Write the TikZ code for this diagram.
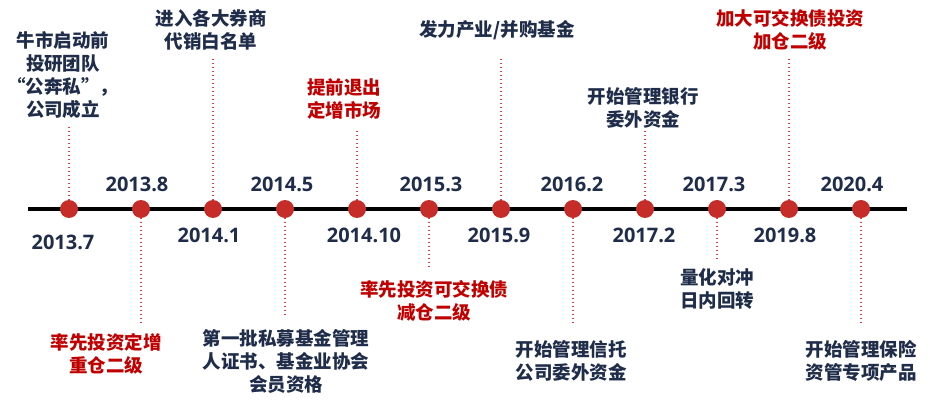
\documentclass[tikz,border=0pt]{standalone}
\usepackage{fontspec}
\newfontfamily\cjk{Noto Sans CJK SC}
\newfontfamily\numf{Open Sans}
\definecolor{navy}{HTML}{1F2D4A}
\definecolor{redtxt}{HTML}{C00000}
\definecolor{dotred}{HTML}{C62D28}
\definecolor{linered}{HTML}{E0403C}
\begin{document}
\begin{tikzpicture}[x=1pt,y=-1pt,
  axis/.style={line width=3.5pt,black},
  dotnode/.style={circle,fill=dotred,minimum size=18pt,inner sep=0pt},
  yearlbl/.style={font=\numf\bfseries\fontsize{20}{22}\selectfont,text=navy,inner sep=0pt},
  evt/.style={font=\cjk\bfseries\fontsize{18.5}{23}\selectfont,text=navy,align=center,inner sep=0pt},
  evtred/.style={evt,text=redtxt},
  conn/.style={linered,line width=1.1pt,dash pattern=on 1.1pt off 2.9pt}]
\useasboundingbox[fill=white] (0,0) rectangle (930,406);
\coordinate (L) at (28,209);
\coordinate (R) at (907,209);
\draw[axis] (L) -- (R);
% dots
\foreach \i in {1,...,12}{
  \node[dotnode] (d\i) at ({69+72*(\i-1)},209) {};
}
% year labels
\node[yearlbl] (y1) at (63,242) {2013.7};
\node[yearlbl] (y2) at (137,184) {2013.8};
\node[yearlbl] (y3) at (209,235) {2014.1};
\node[yearlbl] (y4) at (282,184) {2014.5};
\node[yearlbl] (y5) at (364,235) {2014.10};
\node[yearlbl] (y6) at (431,184) {2015.3};
\node[yearlbl] (y7) at (499,235) {2015.9};
\node[yearlbl] (y8) at (572,184) {2016.2};
\node[yearlbl] (y9) at (644,235) {2017.2};
\node[yearlbl] (y10) at (714,184) {2017.3};
\node[yearlbl] (y11) at (785,235) {2019.8};
\node[yearlbl] (y12) at (852,184) {2020.4};
% event texts
\node[evt] (t1) at (63,75) {牛市启动前\\投研团队\\“公奔私”，\\公司成立};
\node[evtred] (t2) at (106,354) {率先投资定增\\重仓二级};
\node[evt] (t3) at (211,30) {进入各大券商\\代销白名单};
\node[evt] (t4) at (286,361) {第一批私募基金管理\\人证书、基金业协会\\会员资格};
\node[evtred] (t5) at (344,99) {提前退出\\定增市场};
\node[evtred] (t6) at (434,301) {率先投资可交换债\\减仓二级};
\node[evt] (t7) at (497,30) {发力产业/并购基金};
\node[evt] (t8) at (571,361) {开始管理信托\\公司委外资金};
\node[evt] (t9) at (643,108) {开始管理银行\\委外资金};
\node[evt] (t10) at (717,289) {量化对冲\\日内回转};
\node[evtred] (t11) at (790,30) {加大可交换债投资\\加仓二级};
\node[evt] (t12) at (861,361) {开始管理保险\\资管专项产品};
% connector ends
\coordinate (c1) at (69,127);
\coordinate (c2) at (141,325);
\coordinate (c3) at (213,57);
\coordinate (c4) at (285,318);
\coordinate (c5) at (357,130);
\coordinate (c6) at (429,268);
\coordinate (c7) at (501,57);
\coordinate (c8) at (573,325);
\coordinate (c9) at (645,130);
\coordinate (c10) at (717,262);
\coordinate (c11) at (789,58);
\coordinate (c12) at (861,325);
\foreach \i in {1,3,5,7,9,11}{
  \draw[conn] (d\i.north) -- (c\i);
}
\foreach \i in {2,4,6,8,10,12}{
  \draw[conn] (d\i.south) -- (c\i);
}
\end{tikzpicture}
\end{document}
